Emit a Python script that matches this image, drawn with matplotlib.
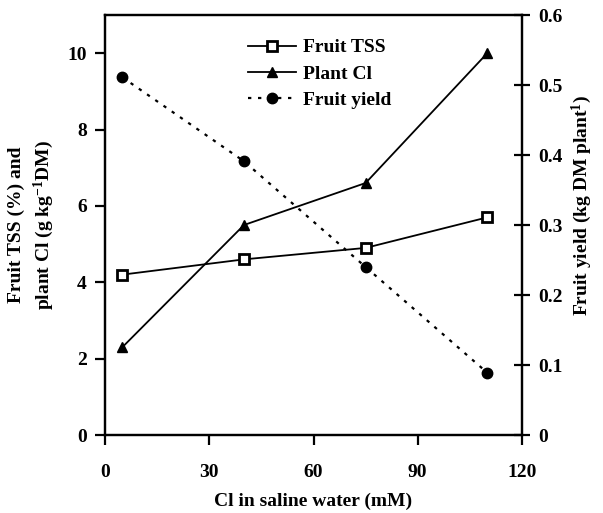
import matplotlib
matplotlib.use("Agg")
import matplotlib.pyplot as plt

plt.rcParams['font.family'] = ['Liberation Serif', 'DejaVu Serif']
plt.rcParams['font.weight'] = 'bold'
plt.rcParams['mathtext.fontset'] = 'custom'
plt.rcParams['mathtext.rm'] = 'Liberation Serif:bold'
plt.rcParams['mathtext.default'] = 'rm'

cl_mM = [5, 40, 75, 110]
fruit_tss = [4.2, 4.6, 4.9, 5.7]
plant_cl = [2.3, 5.5, 6.6, 10.0]
fruit_yield = [0.511, 0.391, 0.240, 0.089]

x_ticks = [0, 30, 60, 90, 120]
left_ticks = [0, 2, 4, 6, 8, 10]
right_ticks = [0, 0.1, 0.2, 0.3, 0.4, 0.5, 0.6]
right_labels = ['0', '0.1', '0.2', '0.3', '0.4', '0.5', '0.6']

FS = 14

fig = plt.figure(figsize=(6.03, 5.13), dpi=100)
ax = fig.add_axes([105/603, 1-435/513, (522-105)/603, (435-15)/513])
ax2 = ax.twinx()

l1, = ax.plot(cl_mM, fruit_tss, color='black', lw=1.3, marker='s', ms=6.5,
              mfc='white', mec='black', mew=2.0)
l2, = ax.plot(cl_mM, plant_cl, color='black', lw=1.3, marker='^', ms=7.5,
              mfc='black', mec='black')
l3, = ax2.plot(cl_mM, fruit_yield, color='black', lw=1.6, ls=(0, (1.5, 3)),
               marker='o', ms=7.5, mfc='black', mec='black')

ax.set_xlim(0, 120)
ax.set_ylim(0, 11)
ax2.set_ylim(0, 0.6)
ax.set_xticks(x_ticks)
ax.set_xticklabels([str(v) for v in x_ticks], fontsize=FS, fontweight='bold')
ax.set_yticks(left_ticks)
ax.set_yticklabels([str(v) for v in left_ticks], fontsize=FS, fontweight='bold')
ax2.set_yticks(right_ticks)
ax2.set_yticklabels(right_labels, fontsize=FS, fontweight='bold')

for a in (ax, ax2):
    for s in a.spines.values():
        s.set_linewidth(1.6)
ax.tick_params(axis='x', direction='out', length=7, width=1.6, pad=14)
ax.tick_params(axis='y', direction='out', length=7, width=1.6, pad=6)
ax2.tick_params(axis='y', direction='inout', length=12, width=1.6, pad=6)

ax.set_xlabel('Cl in saline water (mM)', fontsize=FS, fontweight='bold', labelpad=8)
ax.set_ylabel('Fruit TSS (%) and\nplant Cl (g kg$^{-1}$DM)', fontsize=FS,
              fontweight='bold', labelpad=8, linespacing=1.4)
fig.text(582/603, 1-205/513, 'Fruit yield (kg DM plant$^{1}$)', fontsize=FS,
         fontweight='bold', rotation=90, ha='center', va='center')

leg = ax.legend([l1, l2, l3], ['Fruit TSS', 'Plant Cl', 'Fruit yield'],
                loc='upper left', bbox_to_anchor=(0.3, 0.985), frameon=False,
                prop={'weight': 'bold', 'size': FS}, handlelength=2.5,
                labelspacing=0.45, handletextpad=0.35)

fig.savefig('out.png', dpi=100)
